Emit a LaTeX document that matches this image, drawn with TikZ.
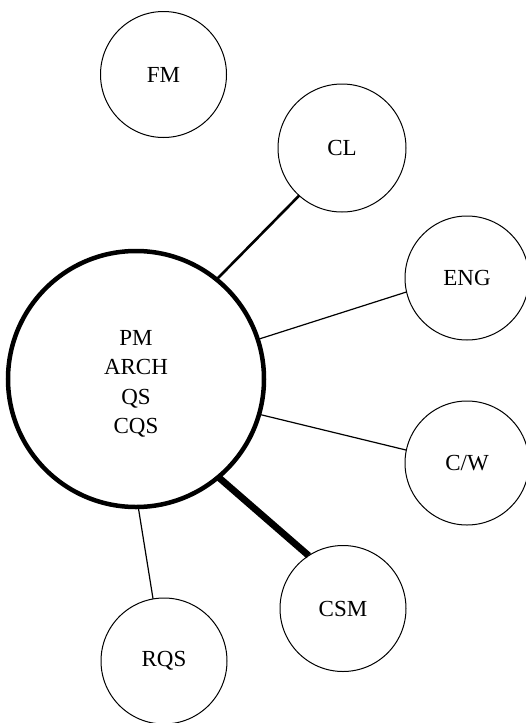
\documentclass[tikz,border=0pt]{standalone}
\usepackage{fontspec}
\setmainfont{Liberation Serif}
\begin{document}
\begin{tikzpicture}[x=1pt,y=-1pt,
  label text/.style={font=\fontsize{23}{29.5}\selectfont, align=center},
  role/.style={circle, draw, line width=1pt, inner sep=0pt, outer sep=0pt,
               minimum size=#1, label text},
  role/.default=126pt,
  core/.style={circle, draw, line width=4.5pt, inner sep=0pt, outer sep=0pt,
               minimum size=256pt},
  thinlink/.style={line width=1.2pt},
  midlink/.style={line width=2.6pt},
  heavylink/.style={line width=6.8pt}]
  \useasboundingbox (0,0) rectangle (525,723);

  % central team, its members listed in the middle
  \node[core, label={[label text, yshift=-5pt]center:{PM\\ARCH\\QS\\CQS}}]
    (core) at (136,379) {};

  % surrounding roles
  \node[role] (fm)  at (163.5,74.5) {FM};
  \node[role=128pt] (cl)  at (342,148) {CL};
  \node[role=124pt] (eng) at (467,278) {ENG};
  \node[role=124pt] (cw)  at (467,463) {C/W};
  \node[role] (csm) at (343,608.5) {CSM};
  \node[role] (rqs) at (164,661) {RQS};

  % links from the core
  \draw[midlink]   (core.51.2)  -- (cl.228.1);
  \draw[thinlink]  (core.18.4)  -- (eng.193.8);
  \draw[thinlink]  (core.-16.4) -- (cw.168.7);
  \draw[heavylink] (core.-50.4) -- (csm.123.9);
  \draw[thinlink]  (core.-89.1) -- (rqs.100);
\end{tikzpicture}
\end{document}
